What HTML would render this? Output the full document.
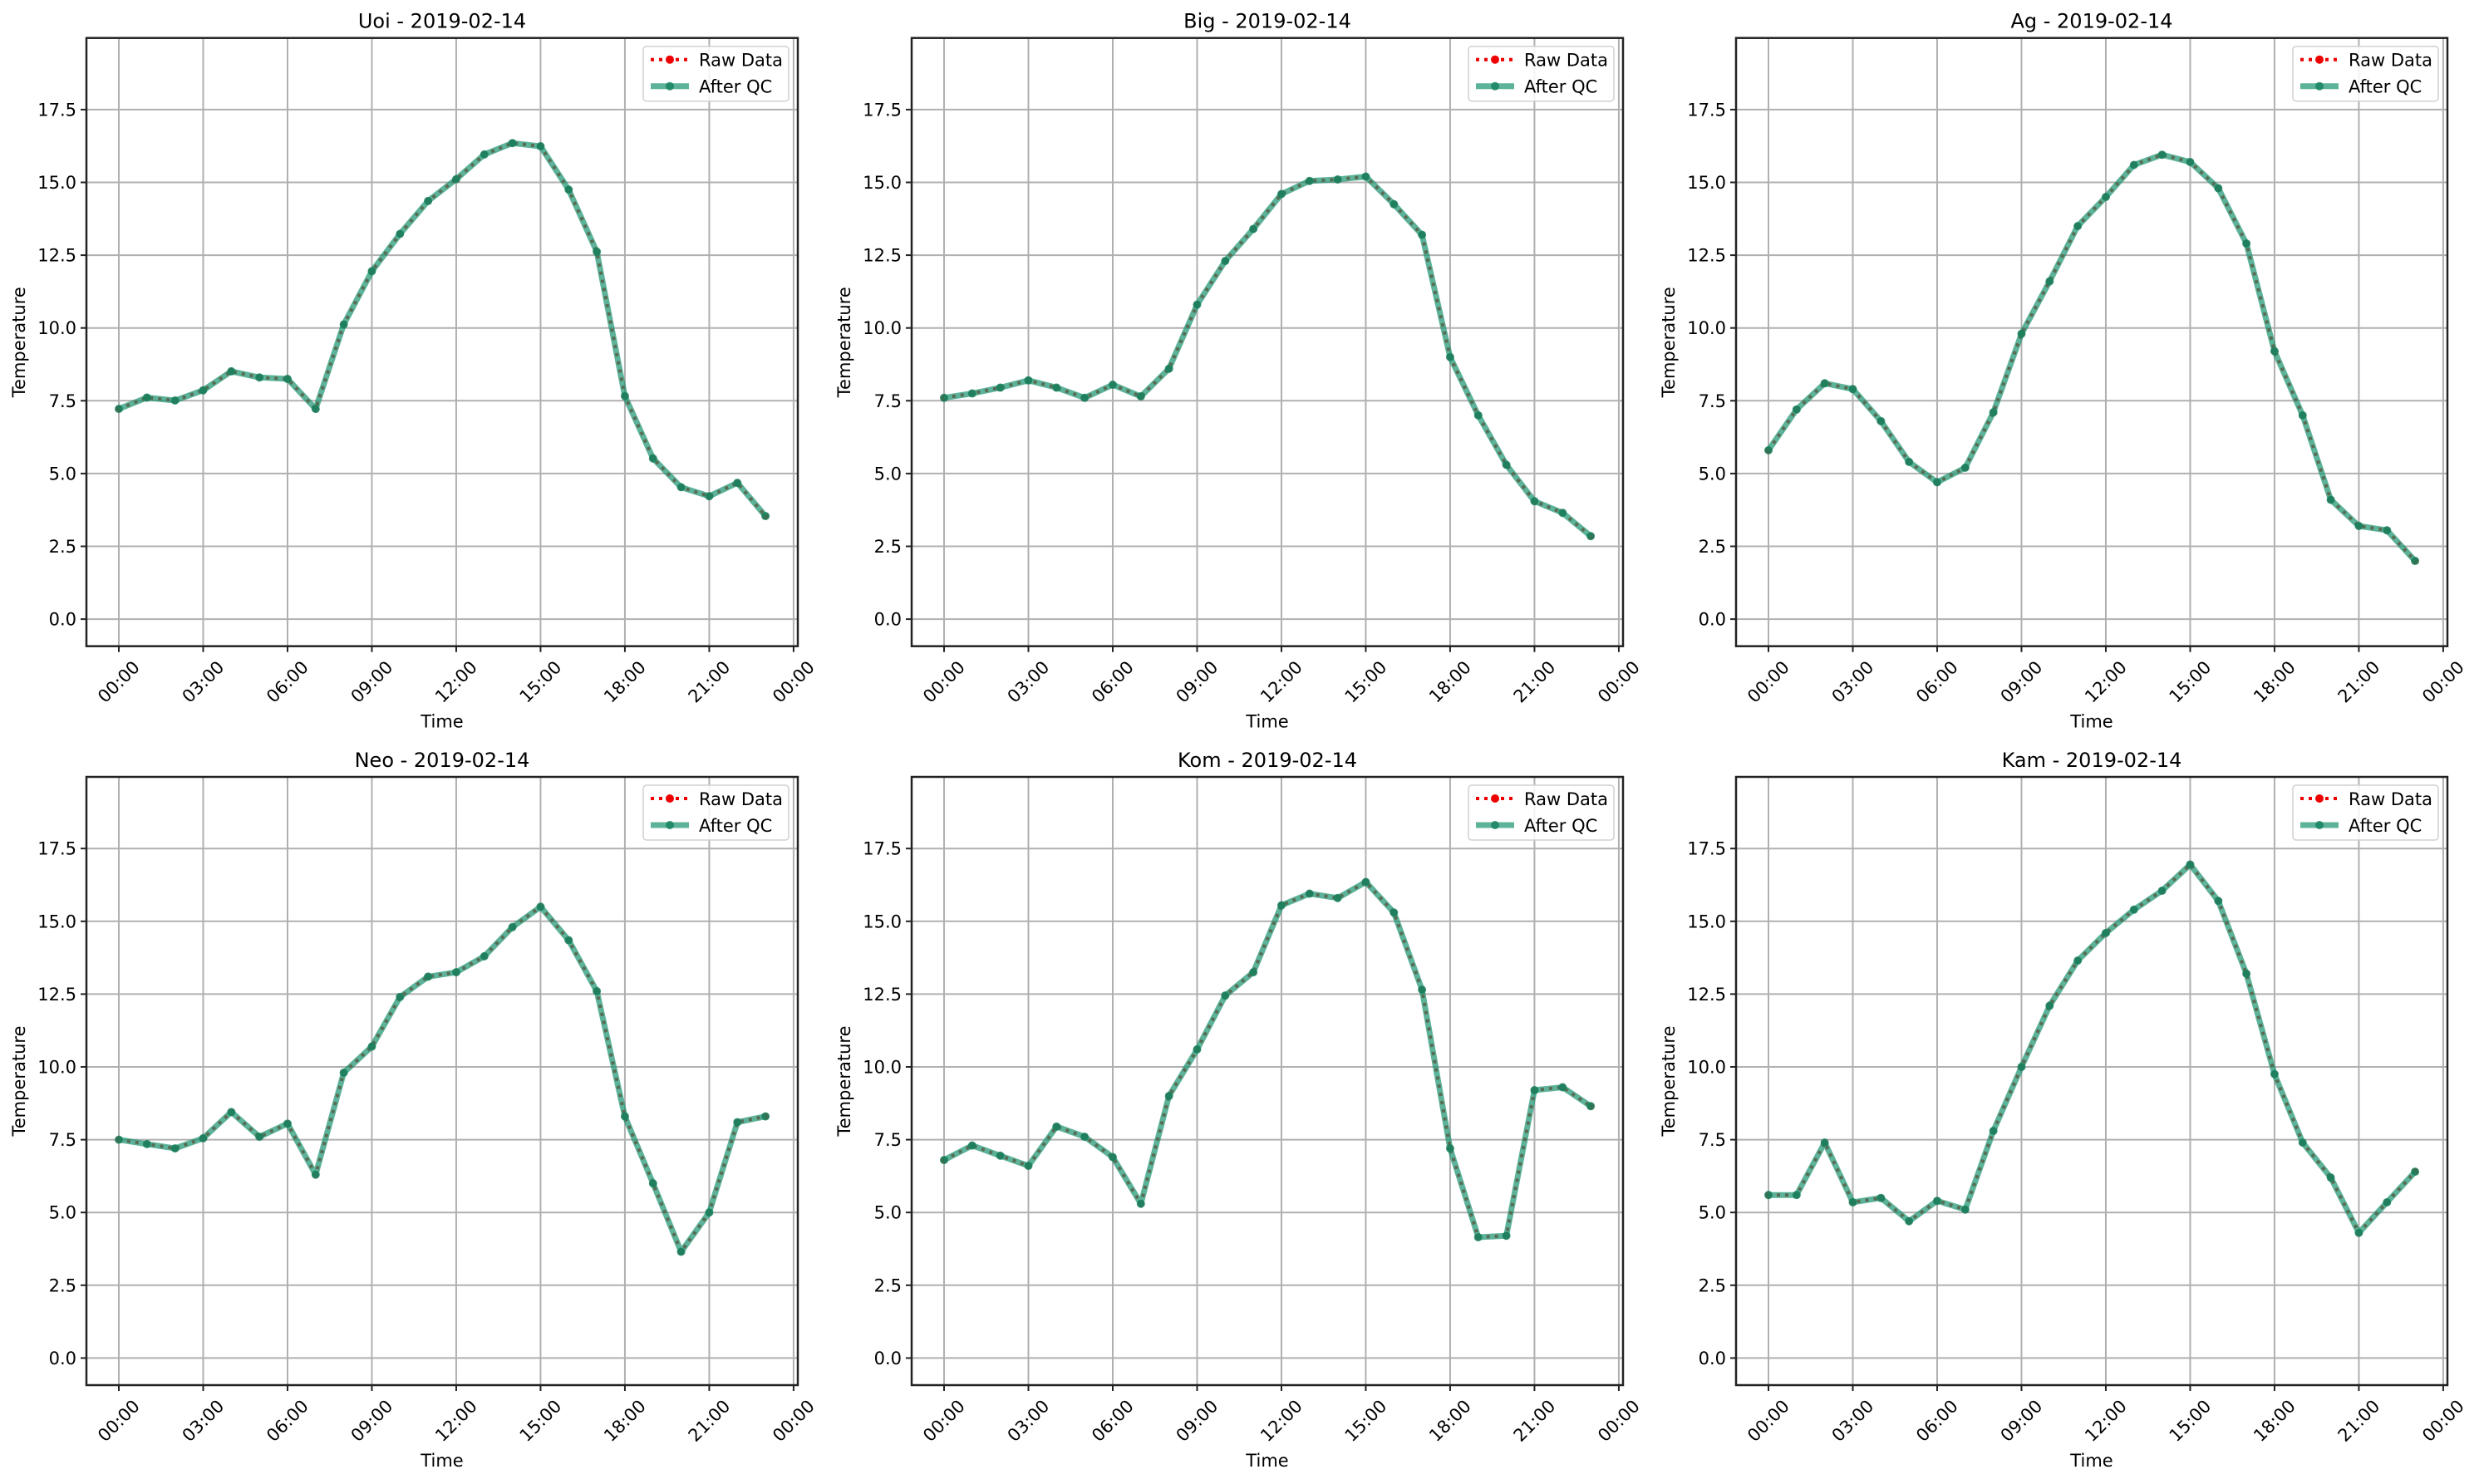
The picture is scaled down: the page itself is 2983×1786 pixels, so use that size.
<!DOCTYPE html>
<html><head><meta charset="utf-8"><style>
html,body{margin:0;padding:0;background:#fff}
svg text{font-family:"DejaVu Sans","Liberation Sans",sans-serif;fill:#000}
</style></head><body>
<svg id="fig" width="2983" height="1781" xmlns="http://www.w3.org/2000/svg"></svg>
<script>
const stations = ["Uoi","Big","Ag","Neo","Kom","Kam"];
const dateLabel = "2019-02-14";
const hours = [0,1,2,3,4,5,6,7,8,9,10,11,12,13,14,15,16,17,18,19,20,21,22,23];
const uoiTemps = [7.22,7.61,7.51,7.86,8.51,8.30,8.25,7.22,10.12,11.95,13.23,14.36,15.11,15.96,16.35,16.24,14.75,12.62,7.66,5.52,4.53,4.22,4.68,3.54];
const bigTemps = [7.6,7.75,7.95,8.2,7.95,7.6,8.05,7.65,8.6,10.8,12.3,13.4,14.6,15.05,15.1,15.2,14.25,13.2,9.0,7.0,5.3,4.05,3.65,2.85];
const agTemps = [5.8,7.2,8.1,7.9,6.8,5.4,4.7,5.2,7.1,9.8,11.6,13.5,14.5,15.6,15.95,15.7,14.8,12.9,9.2,7.0,4.1,3.2,3.05,2.0];
const neoTemps = [7.5,7.35,7.2,7.55,8.45,7.6,8.05,6.3,9.8,10.7,12.4,13.1,13.25,13.8,14.8,15.5,14.35,12.6,8.3,6.0,3.65,5.0,8.1,8.3];
const komTemps = [6.8,7.3,6.95,6.6,7.95,7.6,6.9,5.3,9.0,10.6,12.45,13.25,15.55,15.95,15.8,16.35,15.3,12.65,7.2,4.15,4.2,9.2,9.3,8.65];
const kamTemps = [5.6,5.6,7.4,5.35,5.5,4.7,5.4,5.1,7.8,10.0,12.1,13.65,14.6,15.4,16.05,16.95,15.7,13.2,9.75,7.4,6.2,4.3,5.35,6.4];
const seriesList = [uoiTemps,bigTemps,agTemps,neoTemps,komTemps,kamTemps];
const yTicks = [0,2.5,5,7.5,10,12.5,15,17.5];
const yTickLabels = ["0.0","2.5","5.0","7.5","10.0","12.5","15.0","17.5"];
const xTicks = [0,3,6,9,12,15,18,21,24];
const xTickLabels = ["00:00","03:00","06:00","09:00","12:00","15:00","18:00","21:00","00:00"];

const NS="http://www.w3.org/2000/svg";
const svg=document.getElementById('fig');
function mk(tag,attrs,parent){const e=document.createElementNS(NS,tag);for(const k in attrs)e.setAttribute(k,attrs[k]);(parent||svg).appendChild(e);return e;}

const lefts=[104,1097,2089], tops=[45.7,935];
const W=856,H=732;
const yMin=-0.93,yMax=19.96;
const xMin=-1.153,xMax=24.15;
const QC='rgb(30,150,115)', QCM='rgb(22,130,95)';

stations.forEach((st,i)=>{
  const L=lefts[i%3],T=tops[Math.floor(i/3)];
  const g=mk('g',{});
  
  
  const xs=h=>L+(h-xMin)/(xMax-xMin)*W;
  const ys=v=>T+H-(v-yMin)/(yMax-yMin)*H;
  xTicks.forEach((t,k)=>{
    const x=xs(t);
    const gl=mk('line',{x1:x,x2:x,y1:T,y2:T+H,stroke:'#b0b0b0','stroke-width':2},g);
    
    
    mk('line',{x1:x,x2:x,y1:T+H,y2:T+H+7,stroke:'#222','stroke-width':2},g);
    const tx=mk('text',{x:0,y:0,'font-size':21,'text-anchor':'middle','dominant-baseline':'central',transform:`translate(${x},${T+H+43}) rotate(-45)`},g);
    tx.textContent=xTickLabels[k];
    
    
  });
  yTicks.forEach((t,k)=>{
    const y=ys(t);
    const gl=mk('line',{x1:L,x2:L+W,y1:y,y2:y,stroke:'#b0b0b0','stroke-width':2},g);
    
    
    mk('line',{x1:L-7,x2:L,y1:y,y2:y,stroke:'#222','stroke-width':2},g);
    const tx=mk('text',{x:L-12,y:y+7.5,'font-size':21,'text-anchor':'end'},g);
    tx.textContent=yTickLabels[k];
    
    
  });
  const data=seriesList[i];
  const pts=hours.map((h,k)=>xs(h).toFixed(1)+','+ys(data[k]).toFixed(1)).join(' ');
  const raw=mk('polyline',{points:pts,fill:'none',stroke:'#e00','stroke-width':4,'stroke-dasharray':'4 6'},g);
  
  
  hours.forEach((h,k)=>{mk('circle',{cx:xs(h),cy:ys(data[k]),r:4,fill:'#e00'},g);});
  const qc=mk('polyline',{points:pts,fill:'none',stroke:QC,'stroke-opacity':0.72,'stroke-width':7,'stroke-linejoin':'round'},g);
  
  
  hours.forEach((h,k)=>{
    const c=mk('circle',{cx:xs(h),cy:ys(data[k]),r:5,fill:QCM,'fill-opacity':0.85},g);
    
    
  });
  const fr=mk('rect',{x:L,y:T,width:W,height:H,fill:'none',stroke:'#222','stroke-width':2.5},g);
  
  
  const ti=mk('text',{x:L+W/2,y:T-12,'font-size':24,'text-anchor':'middle'},g);
  ti.textContent=st+' - '+dateLabel;
  
  
  const xl=mk('text',{x:L+W/2,y:T+H+98,'font-size':21,'text-anchor':'middle'},g);
  xl.textContent='Time';
  
  
  const yl=mk('text',{x:0,y:0,'font-size':21,'text-anchor':'middle',transform:`translate(${L-74},${T+H/2}) rotate(-90)`},g);
  yl.textContent='Temperature';
  
  
  const lg=mk('g',{},g);
  
  
  const lx=L+W-186, ly=T+10;
  mk('rect',{x:lx,y:ly,width:175,height:66,rx:4,fill:'#fff','fill-opacity':0.85,stroke:'#d0d0d0','stroke-width':1.5},lg);
  mk('line',{x1:lx+9,x2:lx+55,y1:ly+16,y2:ly+16,stroke:'#e00','stroke-width':4,'stroke-dasharray':'4 6'},lg);
  mk('circle',{cx:lx+32,cy:ly+16,r:5,fill:'#e00'},lg);
  const t1=mk('text',{x:lx+67,y:ly+24,'font-size':21},lg);
  t1.textContent='Raw Data';
  
  
  mk('line',{x1:lx+9,x2:lx+55,y1:ly+48,y2:ly+48,stroke:QC,'stroke-opacity':0.72,'stroke-width':7},lg);
  mk('circle',{cx:lx+32,cy:ly+48,r:5,fill:QCM,'fill-opacity':0.85},lg);
  const t2=mk('text',{x:lx+67,y:ly+56,'font-size':21},lg);
  t2.textContent='After QC';
  
  
});
</script>
</body></html>
